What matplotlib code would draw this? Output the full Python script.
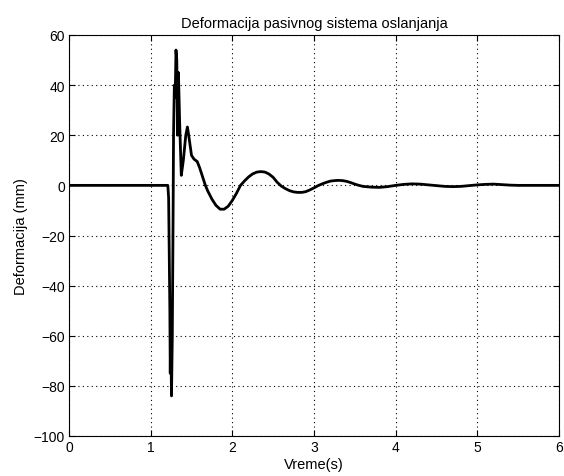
"""Deformacija pasivnog sistema oslanjanja - MATLAB-style time response."""
import matplotlib
matplotlib.use("Agg")
import matplotlib.pyplot as plt

# time (s) and suspension deflection (mm)
t = [0.0, 1.0, 1.21, 1.22, 1.235, 1.24, 1.245, 1.255, 1.265, 1.275, 1.28,
     1.29, 1.30, 1.31, 1.32, 1.33, 1.34, 1.355, 1.375, 1.40, 1.43, 1.45,
     1.47, 1.50, 1.53, 1.57, 1.60, 1.63, 1.67, 1.70, 1.75, 1.80, 1.85,
     1.90, 1.95, 2.00, 2.05, 2.10, 2.15, 2.20, 2.25, 2.30, 2.35, 2.40,
     2.45, 2.50, 2.55, 2.60, 2.65, 2.70, 2.75, 2.80, 2.85, 2.90, 2.95,
     3.00, 3.05, 3.10, 3.15, 3.20, 3.25, 3.30, 3.35, 3.40, 3.45, 3.50,
     3.55, 3.60, 3.70, 3.80, 3.90, 4.00, 4.10, 4.20, 4.30, 4.40, 4.50,
     4.60, 4.70, 4.80, 4.90, 5.00, 5.10, 5.20, 5.30, 5.40, 5.50, 6.0]
y = [0.0, 0.0, 0.0, -5.0, -50.0, -75.0, -55.0, -84.0, -60.0, -10.0, 20.0,
     40.0, 35.0, 54.0, 50.0, 20.0, 45.0, 25.0, 4.0, 10.0, 20.0, 23.3,
     19.0, 12.0, 10.5, 9.5, 7.0, 4.0, 0.0, -2.3, -5.5, -8.0, -9.5,
     -9.5, -8.3, -6.0, -3.2, 0.0, 1.8, 3.4, 4.6, 5.3, 5.5, 5.3,
     4.5, 3.2, 1.2, -0.3, -1.3, -2.1, -2.6, -2.8, -2.8, -2.5, -1.8,
     -1.0, -0.1, 0.6, 1.2, 1.7, 1.9, 2.0, 1.9, 1.6, 1.1, 0.5,
     0.0, -0.4, -0.7, -0.8, -0.5, 0.0, 0.4, 0.6, 0.5, 0.2, -0.1,
     -0.4, -0.5, -0.4, -0.1, 0.2, 0.4, 0.5, 0.3, 0.1, 0.0, 0.0]

plt.rcParams["font.family"] = ["Liberation Sans", "DejaVu Sans"]

fig = plt.figure(figsize=(5.64, 4.77), dpi=100)
ax = fig.add_axes([69 / 564, 1 - 437 / 477, (559 - 69) / 564, (437 - 36) / 477])

ax.plot(t, y, color="k", lw=2.0)
ax.set_xlim(0, 6)
ax.set_ylim(-100, 60)
ax.set_xticks(range(0, 7))
ax.set_yticks(range(-100, 61, 20))
ax.grid(True, color="k", ls=(0, (1, 3)), lw=0.8)
ax.tick_params(direction="in", length=4, labelsize=10, pad=3,
               top=True, right=True)
for s in ax.spines.values():
    s.set_linewidth(0.8)

ax.set_title("Deformacija pasivnog sistema oslanjanja", fontsize=10.5, pad=6)
ax.set_xlabel("Vreme(s)", fontsize=10.5, labelpad=2)
ax.set_ylabel("Deformacija (mm)", fontsize=10.5, labelpad=4)

fig.savefig("out.png", dpi=100)
